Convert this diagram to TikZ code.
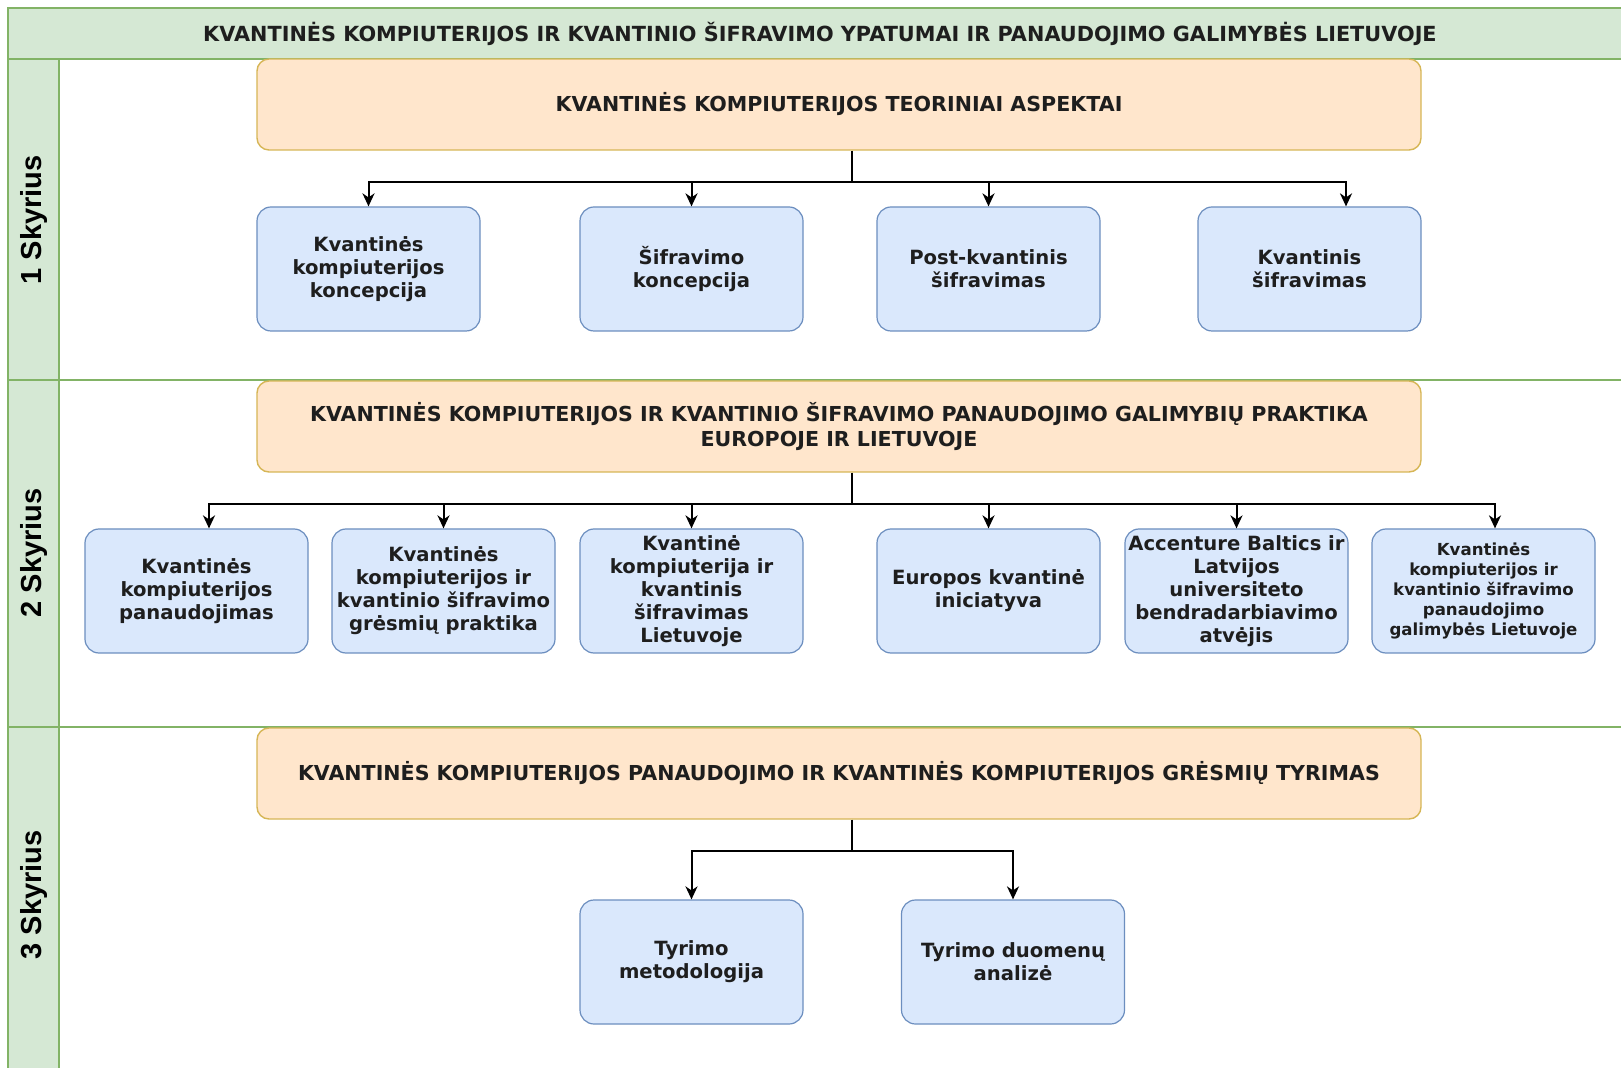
\documentclass[tikz,border=0pt]{standalone}
\usepackage{fontspec}
\setmainfont{DejaVu Sans}
\newfontfamily\laneFont{Liberation Sans}
\usetikzlibrary{arrows.meta}

\definecolor{hdrFill}{HTML}{D5E8D4}
\definecolor{hdrLine}{HTML}{82B366}
\definecolor{topicFill}{HTML}{FFE6CC}
\definecolor{topicLine}{HTML}{D6B656}
\definecolor{itemFill}{HTML}{DAE8FC}
\definecolor{itemLine}{HTML}{6C8EBF}
\definecolor{txtDark}{HTML}{1E1E1E}

\tikzset{
    laneBox/.style={draw=hdrLine, line width=0.6pt},
    hdrText/.style={text=txtDark, font=\fontsize{10.4}{12.4}\selectfont\bfseries},
    laneText/.style={rotate=90, text=black, font=\laneFont\fontsize{14.5}{17}\selectfont\bfseries},
    topicBox/.style={draw=topicLine, fill=topicFill, rounded corners=6pt, line width=0.7pt,
        minimum width=582pt, minimum height=45.5pt, align=center, text=txtDark,
        font=\fontsize{10.3}{12.4}\selectfont\bfseries},
    itemBox/.style={draw=itemLine, fill=itemFill, rounded corners=7pt, line width=0.6pt,
        minimum width=111.5pt, minimum height=62pt, inner sep=1pt, align=center, text=txtDark,
        font=\fontsize{9.8}{11.5}\selectfont\bfseries},
    itemSmall/.style={itemBox, font=\fontsize{8.3}{9.9}\selectfont\bfseries},
    wire/.style={line width=1pt},
    link/.style={wire, -{Stealth[length=6.5pt,width=6pt,inset=2pt]}}
}

\begin{document}
\begin{tikzpicture}[x=0.5pt, y=-0.5pt]
\useasboundingbox (0,0) rectangle (1621,1068);
\fill[white] (0,0) rectangle (1621,1068);
\clip (0,0) rectangle (1621,1068);

% lanes
\fill[hdrFill] (8,8) rectangle (1640,59);
\fill[hdrFill] (8,59) rectangle (59,1080);
\draw[laneBox] (8,8) rectangle (1640,59);
\foreach \laneTop/\laneBot in {59/380, 380/727, 727/1080}
{
    \draw[laneBox] (8,\laneTop) rectangle (59,\laneBot);
    \draw[laneBox] (59,\laneTop) rectangle (1640,\laneBot);
}
\node[hdrText] (hdrTitle) at (820,33.5) {KVANTINĖS KOMPIUTERIJOS IR KVANTINIO ŠIFRAVIMO YPATUMAI IR PANAUDOJIMO GALIMYBĖS LIETUVOJE};
\foreach \secNum/\secY in {1/220, 2/553, 3/895}
{
    \node[laneText] (lane\secNum) at (34,\secY) {\secNum{} Skyrius};
}

% topics
\node[topicBox] (topicA) at (839,104.5) {KVANTINĖS KOMPIUTERIJOS TEORINIAI ASPEKTAI};
\node[topicBox] (topicB) at (839,426.5) {KVANTINĖS KOMPIUTERIJOS IR KVANTINIO ŠIFRAVIMO PANAUDOJIMO GALIMYBIŲ PRAKTIKA\\EUROPOJE IR LIETUVOJE};
\node[topicBox] (topicC) at (839,773.5) {KVANTINĖS KOMPIUTERIJOS PANAUDOJIMO IR KVANTINĖS KOMPIUTERIJOS GRĖSMIŲ TYRIMAS};

% 1 skyrius
\foreach \itemX/\itemName/\itemText in {368.5/itemAA/{Kvantinės\\kompiuterijos\\koncepcija},
    691.5/itemAB/{Šifravimo\\koncepcija}, 988.5/itemAC/{Post-kvantinis\\šifravimas},
    1309.5/itemAD/{Kvantinis\\šifravimas}}
{
    \node[itemBox] (\itemName) at (\itemX,269) {\itemText};
}
\coordinate (busA) at (852,182);
\draw[wire] (topicA.south -| busA) -- (busA);
\foreach \itemName/\tipShift in {itemAA/0, itemAB/0, itemAC/0, itemAD/18.25}
{
    \draw[link] (busA) -| ([xshift=\tipShift pt]\itemName.north);
}

% 2 skyrius
\foreach \itemX/\itemName/\itemText in {196.5/itemBA/{Kvantinės\\kompiuterijos\\panaudojimas},
    443.5/itemBB/{Kvantinės\\kompiuterijos ir\\kvantinio šifravimo\\grėsmių praktika},
    691.5/itemBC/{Kvantinė\\kompiuterija ir\\kvantinis\\šifravimas\\Lietuvoje},
    988.5/itemBD/{Europos kvantinė\\iniciatyva},
    1236.5/itemBE/{Accenture Baltics ir\\Latvijos\\universiteto\\bendradarbiavimo\\atvėjis}}
{
    \node[itemBox] (\itemName) at (\itemX,591) {\itemText};
}
\node[itemSmall] (itemBF) at (1483.5,591) {Kvantinės\\kompiuterijos ir\\kvantinio šifravimo\\panaudojimo\\galimybės Lietuvoje};
\coordinate (busB) at (852,504.5);
\draw[wire] (topicB.south -| busB) -- (busB);
\foreach \itemName/\tipShift in {itemBA/6.25, itemBB/0, itemBC/0, itemBD/0, itemBE/0, itemBF/5.75}
{
    \draw[link] (busB) -| ([xshift=\tipShift pt]\itemName.north);
}

% 3 skyrius
\node[itemBox] (itemCA) at (691.5,962) {Tyrimo\\metodologija};
\node[itemBox] (itemCB) at (1013,962) {Tyrimo duomenų\\analizė};
\coordinate (busC) at (852,851);
\draw[wire] (topicC.south -| busC) -- (busC);
\foreach \itemName in {itemCA, itemCB}
{
    \draw[link] (busC) -| (\itemName.north);
}
\end{tikzpicture}
\end{document}
